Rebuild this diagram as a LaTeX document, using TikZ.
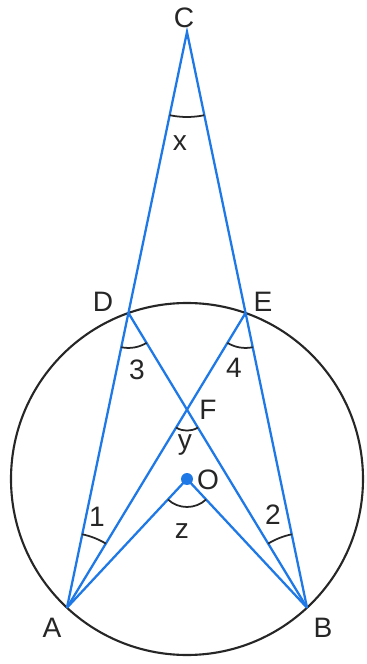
\documentclass[tikz,border=0pt]{standalone}
\usepackage{fontspec}
\setmainfont{Liberation Sans}
\usepackage{tikz}
\usetikzlibrary{calc, angles}
\definecolor{lineblue}{RGB}{30,120,230}

\begin{document}
\begin{tikzpicture}[
        x=0.02cm, y=0.02cm,
        seg/.style={draw=lineblue, line width=1.3pt},
        rim/.style={draw=black!85, line width=1.2pt},
        anglemark/.style={draw=black!85, line width=1pt},
        lbl/.style={font=\fontsize{16}{18}\selectfont, text=black!85, inner sep=0pt}
    ]
        \useasboundingbox (-187,-185) rectangle (179,479);

        \coordinate (O) at (0,0);
        \coordinate (A) at (227:176);
        \coordinate (B) at (313:176);
        \coordinate (C) at (0,447);
        \coordinate (D) at ($(A)!0.512!(C)$);
        \coordinate (E) at ($(B)!0.512!(C)$);
        \coordinate (F) at (intersection of A--E and B--D);

        \draw[rim] (O) circle (176);

        \draw[seg] (A) -- (C) -- (B);
        \draw[seg] (A) -- (E);
        \draw[seg] (B) -- (D);
        \draw[seg] (A) -- (O) -- (B);
        \fill[lineblue] (O) circle (6);

        \pic[anglemark, angle radius=1.7cm] {angle=A--C--B};
        \pic[anglemark, angle radius=0.7cm] {angle=A--D--B};
        \pic[anglemark, angle radius=0.7cm] {angle=A--E--B};
        \pic[anglemark, angle radius=0.42cm] {angle=A--F--B};
        \pic[anglemark, angle radius=0.56cm] {angle=A--O--B};
        \pic[anglemark, angle radius=1.5cm] {angle=E--A--C};
        \pic[anglemark, angle radius=1.5cm] {angle=C--B--D};

        \node[lbl] (lC) at (-3,461) {C};
        \node[lbl] (lD) at (-84,177) {D};
        \node[lbl] (lE) at (76,177) {E};
        \node[lbl] (lF) at (21,69) {F};
        \node[lbl] (lO) at (21,-1) {O};
        \node[lbl] (lA) at (-135,-149) {A};
        \node[lbl] (lB) at (136,-149) {B};

        \node[lbl] (lx) at (-7,336) {x};
        \node[lbl] (ly) at (-2,34) {y};
        \node[lbl] (lz) at (-5,-52) {z};
        \node[lbl] (l1) at (-90,-38) {1};
        \node[lbl] (l2) at (86,-36) {2};
        \node[lbl] (l3) at (-50,109) {3};
        \node[lbl] (l4) at (47,111) {4};
    \end{tikzpicture}
\end{document}
